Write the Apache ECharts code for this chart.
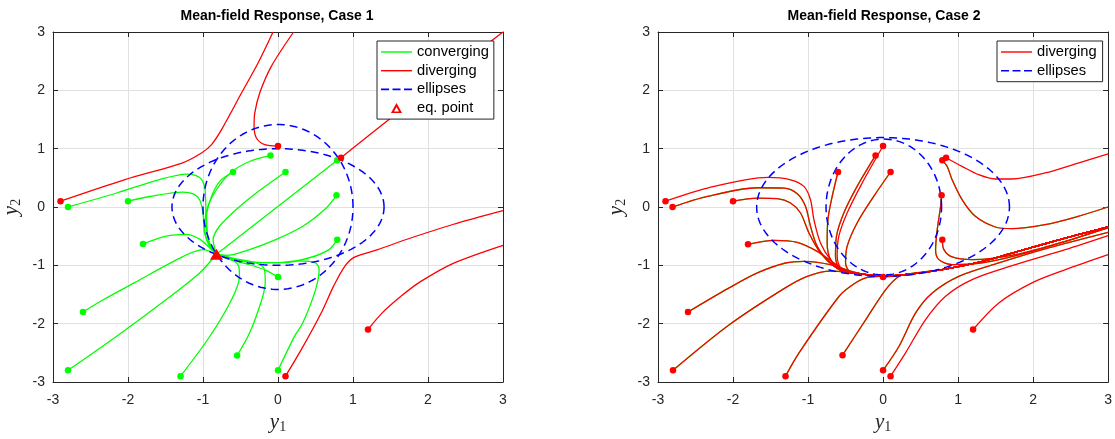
<!DOCTYPE html>
<html>
<head>
<meta charset="utf-8">
<script src="https://cdn.jsdelivr.net/npm/echarts@6/dist/echarts.min.js"></script>
<style>
  html, body { margin: 0; padding: 0; background: #ffffff; }
  #chart { width: 1115px; height: 439px; }
</style>
</head>
<body>
<div id="chart"></div>
<script>
// Tick values shared by both panels (x and y)
const tickValues = [-3, -2, -1, 0, 1, 2, 3];

// Panel titles
const panelTitles = ['Mean-field Response, Case 1', 'Mean-field Response, Case 2'];

// Case 1: equilibrium point
const case1Eq = [-0.82, -0.81];

// Case 1: trajectories that settle on the equilibrium point
const case1Converging = [
  [[-2.80, 0.00], [-2.15, 0.24], [-1.58, 0.47], [-1.22, 0.565], [-1.05, 0.51], [-0.98, 0.36], [-0.965, 0.12], [-0.955, -0.33], [-0.91, -0.63], [-0.82, -0.81]],
  [[-2.00, 0.10], [-1.71, 0.18], [-1.27, 0.256], [-1.13, 0.225], [-1.045, 0.125], [-1.00, -0.10], [-0.98, -0.445], [-0.91, -0.675], [-0.82, -0.81]],
  [[-1.80, -0.634], [-1.49, -0.50], [-1.22, -0.47], [-1.045, -0.55], [-0.92, -0.69], [-0.82, -0.81]],
  [[-2.60, -1.80], [-2.33, -1.59], [-1.93, -1.31], [-1.27, -0.85], [-1.00, -0.73], [-0.82, -0.81]],
  [[-2.80, -2.80], [-2.15, -2.216], [-1.49, -1.587], [-1.045, -1.13], [-0.82, -0.81]],
  [[-1.30, -2.90], [-0.91, -2.22], [-0.62, -1.59], [-0.514, -1.19], [-0.523, -1.02], [-0.62, -0.90], [-0.82, -0.81]],
  [[-0.545, -2.546], [-0.40, -2.217], [-0.29, -1.873], [-0.17, -1.30], [-0.18, -1.074], [-0.29, -0.96], [-0.56, -0.89], [-0.82, -0.81]],
  [[0.00, -2.80], [0.22, -2.217], [0.33, -1.99], [0.50, -1.42], [0.548, -1.074], [0.50, -0.96], [0.28, -0.925], [-0.05, -0.955], [-0.38, -0.94], [-0.65, -0.87], [-0.82, -0.81]],
  [[0.00, -1.20], [-0.16, -1.086], [-0.38, -0.99], [-0.65, -0.90], [-0.82, -0.81]],
  [[0.79, -0.56], [0.68, -0.73], [0.42, -0.87], [0.06, -0.955], [-0.29, -0.95], [-0.60, -0.905], [-0.82, -0.81]],
  [[0.78, 0.20], [0.64, -0.02], [0.33, -0.33], [-0.03, -0.56], [-0.38, -0.73], [-0.69, -0.83], [-0.82, -0.81]],
  [[0.79, 0.80], [-0.82, -0.81]],
  [[0.10, 0.60], [-0.29, 0.24], [-0.56, -0.046], [-0.78, -0.33], [-0.865, -0.56], [-0.82, -0.81]],
  [[-0.10, 0.885], [-0.38, 0.78], [-0.62, 0.60], [-0.82, 0.30], [-0.935, 0.01], [-0.98, -0.33], [-0.93, -0.62], [-0.82, -0.81]],
  [[-0.60, 0.60], [-0.776, 0.44], [-0.886, 0.18], [-0.952, -0.16], [-0.93, -0.56], [-0.82, -0.81]]
];

// Case 1: trajectories that leave the plotted region
const case1Diverging = [
  [[-2.90, 0.10], [-2.04, 0.47], [-1.28, 0.754], [-1.02, 0.926], [-0.886, 1.07], [-0.753, 1.326], [-0.487, 1.954], [-0.266, 2.469], [-0.066, 3.0]],
  [[0.00, 1.045], [-0.177, 1.069], [-0.288, 1.183], [-0.319, 1.383], [-0.31, 1.611], [-0.244, 1.954], [-0.089, 2.411], [0.208, 3.0]],
  [[0.84, 0.845], [1.51, 1.53], [2.20, 2.21], [3.00, 3.00]],
  [[1.20, -2.10], [1.39, -1.815], [1.639, -1.531], [1.90, -1.28], [2.33, -0.97], [3.00, -0.657]],
  [[0.10, -2.90], [0.31, -2.446], [0.576, -1.817], [0.74, -1.36], [0.89, -1.017], [1.02, -0.86], [1.33, -0.73], [1.75, -0.54], [2.33, -0.30], [3.00, -0.063]]
];

// Ellipses as centre and semi-axes
const case1Ellipses = [
  { cx: 0, cy: 0, rx: 1.414, ry: 1.0 },
  { cx: 0, cy: 0, rx: 1.0, ry: 1.414 }
];
const case2Ellipses = [
  { cx: 0, cy: 0, rx: 1.685, ry: 1.19 },
  { cx: 0.01, cy: 0, rx: 0.77, ry: 1.165 }
];

// Case 2: shared path along the lower edge of the ellipses
const case2Tail = [[-0.27, -1.15], [0.00, -1.185], [0.39, -1.145], [0.83, -1.065], [1.27, -0.95], [1.72, -0.79], [2.16, -0.63], [2.60, -0.475], [3.00, -0.34]];

// Case 2: trajectories drawn over a green trace
const case2Traced = [
  [[-2.806, 0.00], [-2.34, 0.182], [-1.676, 0.33], [-1.32, 0.325], [-1.144, 0.228], [-1.033, 0.01], [-0.967, -0.332], [-0.878, -0.675], [-0.722, -0.931], [-0.523, -1.10]],
  [[-2.00, 0.10], [-1.676, 0.153], [-1.41, 0.142], [-1.233, 0.068], [-1.10, -0.103], [-0.988, -0.445], [-0.834, -0.788], [-0.656, -1.017], [-0.479, -1.12]],
  [[-1.80, -0.64], [-1.453, -0.572], [-1.144, -0.606], [-0.878, -0.76], [-0.656, -0.959], [-0.479, -1.10]],
  [[-2.60, -1.80], [-2.07, -1.40], [-1.676, -1.13], [-1.30, -0.96], [-1.055, -0.931], [-0.70, -0.988], [-0.434, -1.10]],
  [[-2.80, -2.80], [-2.05, -2.02], [-1.32, -1.40], [-1.01, -1.19], [-0.70, -1.10], [-0.45, -1.12]],
  [[-1.30, -2.90], [-1.12, -2.50], [-0.585, -1.53], [-0.40, -1.33], [-0.23, -1.216], [-0.05, -1.19]],
  [[-0.54, -2.54], [-0.23, -1.93], [0.036, -1.416], [0.213, -1.188], [0.346, -1.148]],
  [[0.00, -1.20]],
  [[0.79, -0.56], [0.811, -0.731], [0.922, -0.856], [1.188, -0.902], [1.765, -0.817], [2.43, -0.588], [3.00, -0.349]],
  [[0.78, 0.20], [0.767, 0.01], [0.722, -0.389], [0.70, -0.731], [0.745, -0.902], [0.922, -0.988], [1.32, -0.959], [1.985, -0.76], [3.00, -0.36]],
  [[0.79, 0.80], [0.855, 0.695], [0.92, 0.469], [1.053, 0.126], [1.23, -0.16], [1.496, -0.343], [1.717, -0.371], [2.159, -0.303], [2.60, -0.16], [3.00, 0.00]],
  [[0.10, 0.60], [-0.124, 0.182], [-0.346, -0.274], [-0.479, -0.675], [-0.50, -0.959], [-0.434, -1.12]],
  [[-0.10, 0.885], [-0.346, 0.353], [-0.523, -0.103], [-0.621, -0.503], [-0.634, -0.846], [-0.568, -1.074]],
  [[-0.60, 0.60], [-0.678, 0.182], [-0.735, -0.217], [-0.745, -0.617], [-0.70, -0.902], [-0.568, -1.086]],
  [[0.00, -2.80], [0.213, -2.387], [0.434, -1.815], [0.656, -1.473], [1.01, -1.188], [1.543, -0.959], [2.207, -0.702], [3.00, -0.435]]
];

// Case 2: trajectories drawn in red only
const case2Plain = [
  [[-2.90, 0.10], [-2.34, 0.325], [-1.54, 0.507], [-1.233, 0.467], [-1.055, 0.353], [-0.967, 0.125], [-0.922, -0.217], [-0.834, -0.617], [-0.70, -0.902], [-0.523, -1.10]],
  [[0.84, 0.845], [1.053, 0.697], [1.274, 0.554], [1.496, 0.48], [1.717, 0.48], [2.159, 0.583], [2.60, 0.754], [3.00, 0.909]],
  [[0.00, 1.045], [-0.279, 0.41], [-0.479, -0.103], [-0.59, -0.503], [-0.612, -0.846], [-0.545, -1.074]],
  [[0.10, -2.90], [0.30, -2.50], [0.567, -1.93], [0.834, -1.53], [1.188, -1.245], [1.765, -0.988], [2.43, -0.731], [3.00, -0.491]],
  [[1.20, -2.10], [1.543, -1.644], [1.985, -1.30], [2.43, -1.074], [3.00, -0.817]]
];

const RED = '#ff0000', GREEN = '#00ff00', BLUE = '#0000ff', INK = '#262626';
const FONT = 'Liberation Sans, Arial, Helvetica, sans-serif';
const SERIF = 'Liberation Serif, DejaVu Serif, serif';

// Continue a case-2 path along the shared lower path when it stops short of the edge
function withTail(path) {
  const last = path[path.length - 1];
  if (last[0] >= 2.99) return path;
  return path.concat(case2Tail.filter(p => p[0] > last[0] + 0.05));
}

function ellipsePoints(e) {
  const pts = [];
  for (let i = 0; i <= 240; i++) {
    const t = (i / 240) * 2 * Math.PI;
    pts.push([e.cx + e.rx * Math.cos(t), e.cy + e.ry * Math.sin(t)]);
  }
  return pts;
}

function trajSeries(name, data, color, panel, width) {
  return {
    type: 'line', name, data,
    xAxisIndex: panel * 2, yAxisIndex: panel * 2,
    smooth: 0.3, symbol: 'none', silent: true,
    lineStyle: { color, width: width || 1.3 },
    itemStyle: { color }, z: 2
  };
}

function ellipseSeries(e, panel) {
  return {
    type: 'line', name: 'ellipses', data: ellipsePoints(e),
    xAxisIndex: panel * 2, yAxisIndex: panel * 2,
    smooth: false, symbol: 'none', silent: true,
    lineStyle: { color: BLUE, width: 1.5, type: [8, 5] },
    itemStyle: { color: BLUE }, z: 3
  };
}

function dotSeries(name, paths, color, panel) {
  return {
    type: 'scatter', name, data: paths.map(p => p[0]),
    xAxisIndex: panel * 2, yAxisIndex: panel * 2,
    symbol: 'circle', symbolSize: 6.5, silent: true,
    itemStyle: { color, opacity: 1 }, z: 4
  };
}

function axisName(sub) {
  return {
    name: '{i|y}{s|' + sub + '}',
    nameTextStyle: {
      rich: {
        i: { fontFamily: SERIF, fontStyle: 'italic', fontSize: 21, color: INK },
        s: { fontFamily: SERIF, fontSize: 14, color: INK, padding: [9, 0, 0, 0] }
      }
    }
  };
}

function axisPair(panel) {
  const base = {
    type: 'value', min: tickValues[0], max: tickValues[tickValues.length - 1], interval: 1,
    gridIndex: panel,
    axisLine: { show: true, onZero: false, lineStyle: { color: INK, width: 1 } },
    axisTick: { show: true, inside: true, length: 5, lineStyle: { color: INK } }
  };
  const grid = { show: true, lineStyle: { color: '#e1e1e1', width: 1 } };
  const x = [
    Object.assign({}, base, axisName('1'), {
      position: 'bottom',
      axisLabel: { show: true, color: INK, fontSize: 14, fontFamily: FONT, margin: 11 },
      splitLine: grid, nameLocation: 'middle', nameGap: 29
    }),
    Object.assign({}, base, { position: 'top', axisLabel: { show: false }, splitLine: { show: false } })
  ];
  const y = [
    Object.assign({}, base, axisName('2'), {
      position: 'left',
      axisLabel: { show: true, color: INK, fontSize: 14, fontFamily: FONT, margin: 8 },
      splitLine: grid, nameLocation: 'middle', nameGap: 30, nameRotate: 90
    }),
    Object.assign({}, base, { position: 'right', axisLabel: { show: false }, splitLine: { show: false } })
  ];
  return { x, y };
}

const ICON_LINE = 'path://M0,0H31V1.4H0Z';
const ICON_DASH = 'path://M0,0H8V1.6H0Z M11.5,0H19.5V1.6H11.5Z M23,0H31V1.6H23Z';
const ICON_TRI = 'path://M5,0L10,9H0Z M5,3.4L2.8,7.6H7.2Z';

const a0 = axisPair(0), a1 = axisPair(1);

const series = [];
// Case 1
case1Converging.forEach(p => series.push(trajSeries('converging', p, GREEN, 0)));
case1Diverging.forEach(p => series.push(trajSeries('diverging', p, RED, 0)));
case1Ellipses.forEach(e => series.push(ellipseSeries(e, 0)));
series.push(dotSeries('converging start', case1Converging, GREEN, 0));
series.push(dotSeries('diverging start', case1Diverging, RED, 0));
series.push({
  type: 'scatter', name: 'eq. point', data: [case1Eq],
  xAxisIndex: 0, yAxisIndex: 0, symbol: 'triangle', symbolSize: [13, 11],
  itemStyle: { color: RED, opacity: 1 }, silent: true, z: 5
});
// Case 2
case2Traced.forEach(p => series.push(trajSeries('trace', withTail(p), GREEN, 1, 1.3)));
case2Traced.forEach(p => series.push(trajSeries('diverging', withTail(p), RED, 1, 1.3)));
case2Plain.forEach(p => series.push(trajSeries('diverging', withTail(p), RED, 1)));
case2Ellipses.forEach(e => series.push(ellipseSeries(e, 1)));
series.push(dotSeries('diverging start', case2Traced.concat(case2Plain), RED, 1));

const legendCommon = {
  orient: 'vertical', itemWidth: 31, itemHeight: 10, itemGap: 2.7,
  symbolKeepAspect: true,
  backgroundColor: '#ffffff', borderColor: INK, borderWidth: 1, borderRadius: 0,
  itemStyle: { borderWidth: 0 },
  textStyle: { fontSize: 14.7, fontFamily: FONT, color: '#000000', lineHeight: 16 },
  selectedMode: false
};

const option = {
  animation: false,
  backgroundColor: '#ffffff',
  title: panelTitles.map((t, i) => ({
    text: t, left: i === 0 ? 277 : 884, top: 9, textAlign: 'center', padding: 0,
    textStyle: { fontSize: 14, fontWeight: 'bold', fontFamily: FONT, color: '#000000' }
  })),
  grid: [
    { left: 51, top: 32, width: 452, height: 350 },
    { left: 658, top: 32, width: 451, height: 350 }
  ],
  xAxis: a0.x.concat(a1.x.map(a => Object.assign(a, { gridIndex: 1 }))),
  yAxis: a0.y.concat(a1.y.map(a => Object.assign(a, { gridIndex: 1 }))),
  legend: [
    Object.assign({}, legendCommon, {
      left: 377, top: 41, padding: [3, 5, 3, 4],
      data: [
        { name: 'converging', icon: ICON_LINE, itemStyle: { color: GREEN } },
        { name: 'diverging', icon: ICON_LINE, itemStyle: { color: RED } },
        { name: 'ellipses', icon: ICON_DASH, itemStyle: { color: BLUE } },
        { name: 'eq. point', icon: ICON_TRI, itemStyle: { color: RED } }
      ]
    }),
    Object.assign({}, legendCommon, {
      left: 997, top: 41, padding: [3, 6, 3, 4],
      data: [
        { name: 'diverging', icon: ICON_LINE, itemStyle: { color: RED } },
        { name: 'ellipses', icon: ICON_DASH, itemStyle: { color: BLUE } }
      ]
    })
  ],
  series
};

const chart = echarts.init(document.getElementById('chart'), null, { renderer: 'canvas' });
chart.setOption(option);
</script>
</body>
</html>
